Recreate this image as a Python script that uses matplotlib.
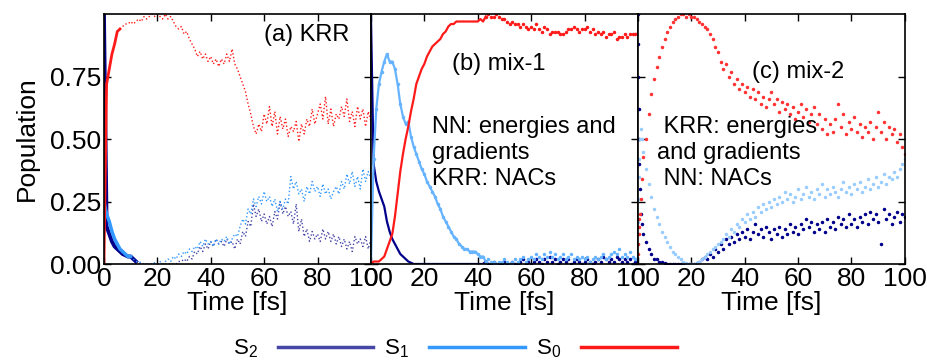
import matplotlib
matplotlib.use('Agg')
import matplotlib.pyplot as plt
from matplotlib.lines import Line2D
import numpy as np

plt.rcParams['font.family'] = ['Liberation Sans', 'DejaVu Sans']
plt.rcParams['font.size'] = 19
plt.rcParams['mathtext.default'] = 'regular'

# time grid (fs) for panels (a) and (b)
t = np.arange(0, 101)

# (a) KRR
s0_a = [0.00, 0.72, 0.78, 0.84, 0.88, 0.93, 0.94, 0.95, 0.96, 0.96,
        0.97, 0.96, 0.97, 0.98, 0.97, 0.99, 0.98, 0.99, 1.00, 0.99,
        1.00, 0.99, 0.98, 1.00, 0.98, 0.99, 0.97, 0.95, 0.94, 0.95,
        0.92, 0.93, 0.90, 0.88, 0.86, 0.83, 0.85, 0.82, 0.84, 0.81,
        0.83, 0.80, 0.82, 0.79, 0.82, 0.80, 0.84, 0.81, 0.86, 0.80,
        0.78, 0.75, 0.72, 0.69, 0.64, 0.60, 0.55, 0.52, 0.56, 0.53,
        0.60, 0.56, 0.63, 0.55, 0.61, 0.52, 0.59, 0.54, 0.58, 0.51,
        0.55, 0.53, 0.57, 0.49, 0.56, 0.52, 0.58, 0.55, 0.62, 0.56,
        0.60, 0.64, 0.58, 0.67, 0.56, 0.62, 0.55, 0.60, 0.58, 0.63,
        0.59, 0.66, 0.57, 0.61, 0.55, 0.63, 0.58, 0.62, 0.55, 0.61,
        0.57]
s1_a = [0.25, 0.20, 0.17, 0.13, 0.10, 0.08, 0.06, 0.05, 0.04, 0.03,
        0.03, 0.02, 0.01, 0.01, 0.005, 0.00, 0.00, 0.00, 0.00, 0.005,
        0.00, 0.01, 0.00, 0.01, 0.02, 0.01, 0.03, 0.02, 0.04, 0.03,
        0.05, 0.04, 0.06, 0.05, 0.07, 0.06, 0.09, 0.07, 0.10, 0.08,
        0.09, 0.07, 0.10, 0.08, 0.10, 0.09, 0.11, 0.08, 0.10, 0.12,
        0.11, 0.15, 0.18, 0.16, 0.22, 0.20, 0.26, 0.23, 0.27, 0.24,
        0.29, 0.25, 0.27, 0.23, 0.26, 0.21, 0.25, 0.22, 0.26, 0.24,
        0.35, 0.30, 0.33, 0.28, 0.30, 0.25, 0.31, 0.28, 0.33, 0.29,
        0.31, 0.27, 0.32, 0.28, 0.30, 0.26, 0.29, 0.31, 0.28, 0.33,
        0.30, 0.36, 0.32, 0.37, 0.31, 0.35, 0.30, 0.38, 0.33, 0.37,
        0.34]
s2_a = [1.00, 0.15, 0.12, 0.09, 0.07, 0.06, 0.05, 0.04, 0.035, 0.03,
        0.03, 0.02, 0.01, 0.005, 0.00, 0.00, 0.00, 0.00, 0.00, 0.00,
        0.00, 0.00, 0.00, 0.00, 0.00, 0.00, 0.00, 0.00, 0.01, 0.01,
        0.02, 0.01, 0.03, 0.02, 0.05, 0.04, 0.07, 0.05, 0.08, 0.06,
        0.09, 0.07, 0.10, 0.08, 0.09, 0.07, 0.10, 0.08, 0.09, 0.06,
        0.10, 0.08, 0.13, 0.11, 0.17, 0.15, 0.24, 0.19, 0.22, 0.17,
        0.20, 0.16, 0.19, 0.15, 0.21, 0.18, 0.25, 0.20, 0.23, 0.19,
        0.21, 0.16, 0.24, 0.13, 0.18, 0.11, 0.14, 0.09, 0.13, 0.10,
        0.12, 0.09, 0.14, 0.10, 0.13, 0.09, 0.12, 0.08, 0.11, 0.07,
        0.10, 0.06, 0.09, 0.05, 0.11, 0.08, 0.10, 0.07, 0.11, 0.06,
        0.10]

# (b) mix-1
s0_b = [0.00, 0.01, 0.01, 0.01, 0.02, 0.03, 0.06, 0.09, 0.12, 0.19,
        0.28, 0.37, 0.44, 0.50, 0.55, 0.61, 0.66, 0.72, 0.75, 0.78,
        0.80, 0.83, 0.85, 0.87, 0.88, 0.89, 0.90, 0.92, 0.93, 0.95,
        0.96, 0.96, 0.97, 0.97, 0.97, 0.97, 0.97, 0.97, 0.97, 0.97,
        0.97, 0.98, 0.97, 0.99, 1.00, 0.99, 0.99, 1.00, 0.99, 0.98,
        0.98, 0.97, 0.96, 0.97, 0.96, 0.96, 0.95, 0.96, 0.95, 0.94,
        0.95, 0.94, 0.96, 0.94, 0.93, 0.95, 0.94, 0.92, 0.93, 0.93,
        0.93, 0.92, 0.92, 0.93, 0.94, 0.94, 0.95, 0.94, 0.93, 0.94,
        0.94, 0.95, 0.93, 0.94, 0.92, 0.93, 0.92, 0.93, 0.91, 0.92,
        0.92, 0.93, 0.90, 0.91, 0.91, 0.92, 0.91, 0.92, 0.92, 0.92,
        0.93]
s1_b = [0.00, 0.42, 0.62, 0.72, 0.77, 0.81, 0.84, 0.81, 0.81, 0.78,
        0.72, 0.64, 0.59, 0.56, 0.57, 0.51, 0.47, 0.44, 0.41, 0.38,
        0.36, 0.33, 0.31, 0.29, 0.27, 0.24, 0.22, 0.19, 0.17, 0.15,
        0.13, 0.11, 0.10, 0.08, 0.07, 0.06, 0.06, 0.05, 0.05, 0.05,
        0.04, 0.03, 0.03, 0.01, 0.02, 0.01, 0.01, 0.00, 0.01, 0.01,
        0.02, 0.01, 0.00, 0.01, 0.02, 0.01, 0.02, 0.03, 0.01, 0.02,
        0.03, 0.02, 0.04, 0.03, 0.02, 0.04, 0.03, 0.05, 0.03, 0.04,
        0.02, 0.03, 0.04, 0.02, 0.03, 0.04, 0.02, 0.03, 0.02, 0.03,
        0.02, 0.03, 0.01, 0.02, 0.03, 0.02, 0.03, 0.04, 0.02, 0.03,
        0.04, 0.05, 0.04, 0.06, 0.03, 0.04, 0.03, 0.05, 0.03, 0.02,
        0.03]
s2_b = [1.00, 0.40, 0.33, 0.29, 0.26, 0.23, 0.17, 0.13, 0.10, 0.08,
        0.06, 0.04, 0.03, 0.02, 0.01, 0.005, 0.00, 0.00, 0.00, 0.00,
        0.00, 0.00, 0.00, 0.00, 0.00, 0.00, 0.00, 0.00, 0.00, 0.00,
        0.00, 0.00, 0.00, 0.00, 0.00, 0.00, 0.00, 0.00, 0.00, 0.00,
        0.00, 0.00, 0.00, 0.01, 0.00, 0.00, 0.01, 0.00, 0.00, 0.00,
        0.01, 0.00, 0.00, 0.01, 0.00, 0.00, 0.01, 0.02, 0.00, 0.01,
        0.00, 0.01, 0.02, 0.01, 0.00, 0.02, 0.01, 0.03, 0.01, 0.02,
        0.00, 0.01, 0.02, 0.01, 0.02, 0.00, 0.01, 0.02, 0.01, 0.00,
        0.01, 0.02, 0.01, 0.00, 0.01, 0.02, 0.01, 0.03, 0.02, 0.01,
        0.02, 0.01, 0.03, 0.02, 0.01, 0.02, 0.01, 0.02, 0.00, 0.01,
        0.02]

# (c) mix-2, finer sampling right after excitation
t_c = np.r_[[0, 0.1, 0.2, 0.3, 0.4, 0.5, 0.7, 1.0, 1.5, 2.0], np.arange(3, 101)]
s0_c = [0.00, 0.04, 0.08, 0.12, 0.15, 0.18, 0.20, 0.26, 0.34, 0.43,
        0.50, 0.60, 0.68, 0.74, 0.79, 0.83, 0.87, 0.90, 0.93, 0.95,
        0.97, 0.98, 0.99, 1.00, 1.00, 0.99, 1.00, 0.99, 0.99, 0.98,
        0.97, 0.96, 0.95, 0.94, 0.92, 0.90, 0.87, 0.85, 0.81, 0.78,
        0.80, 0.75, 0.77, 0.72, 0.74, 0.70, 0.72, 0.69, 0.71, 0.67,
        0.70, 0.66, 0.69, 0.64, 0.67, 0.63, 0.66, 0.69, 0.64, 0.66,
        0.61, 0.65, 0.62, 0.64, 0.60, 0.63, 0.58, 0.61, 0.64, 0.59,
        0.62, 0.57, 0.60, 0.63, 0.56, 0.60, 0.54, 0.58, 0.52, 0.56,
        0.53, 0.58, 0.64, 0.55, 0.60, 0.52, 0.57, 0.54, 0.59, 0.53,
        0.56, 0.51, 0.55, 0.53, 0.57, 0.50, 0.55, 0.61, 0.53, 0.57,
        0.50, 0.55, 0.52, 0.54, 0.49, 0.52, 0.47, 0.44]
s1_c = [0.00, 0.08, 0.17, 0.26, 0.35, 0.42, 0.50, 0.54, 0.50, 0.45,
        0.38, 0.32, 0.27, 0.22, 0.19, 0.16, 0.13, 0.11, 0.09, 0.07,
        0.05, 0.04, 0.03, 0.02, 0.01, 0.005, 0.00, 0.00, 0.00, 0.005,
        0.01, 0.02, 0.03, 0.04, 0.05, 0.06, 0.07, 0.08, 0.09, 0.10,
        0.12, 0.11, 0.14, 0.13, 0.16, 0.15, 0.18, 0.17, 0.20, 0.18,
        0.21, 0.19, 0.23, 0.21, 0.24, 0.22, 0.25, 0.23, 0.26, 0.24,
        0.27, 0.25, 0.29, 0.26, 0.28, 0.25, 0.27, 0.30, 0.26, 0.28,
        0.31, 0.27, 0.29, 0.26, 0.30, 0.28, 0.32, 0.27, 0.30, 0.28,
        0.31, 0.29, 0.27, 0.30, 0.33, 0.29, 0.31, 0.28, 0.32, 0.30,
        0.33, 0.29, 0.31, 0.34, 0.30, 0.32, 0.35, 0.31, 0.33, 0.36,
        0.32, 0.35, 0.34, 0.37, 0.35, 0.38, 0.40, 0.42]
s2_c = [1.00, 0.88, 0.75, 0.62, 0.50, 0.40, 0.30, 0.20, 0.16, 0.12,
        0.09, 0.06, 0.04, 0.02, 0.02, 0.01, 0.01, 0.005, 0.00, 0.00,
        0.00, 0.00, 0.00, 0.00, 0.00, 0.00, 0.00, 0.00, 0.00, 0.005,
        0.01, 0.02, 0.03, 0.02, 0.04, 0.03, 0.06, 0.05, 0.08, 0.06,
        0.10, 0.08, 0.11, 0.09, 0.12, 0.10, 0.13, 0.11, 0.14, 0.10,
        0.13, 0.16, 0.12, 0.14, 0.11, 0.15, 0.13, 0.10, 0.14, 0.12,
        0.15, 0.11, 0.14, 0.12, 0.16, 0.13, 0.15, 0.12, 0.16, 0.14,
        0.18, 0.15, 0.17, 0.13, 0.16, 0.14, 0.17, 0.13, 0.18, 0.15,
        0.17, 0.14, 0.19, 0.16, 0.18, 0.15, 0.20, 0.16, 0.18, 0.15,
        0.19, 0.17, 0.20, 0.16, 0.21, 0.18, 0.20, 0.17, 0.08, 0.22,
        0.18, 0.20, 0.16, 0.19, 0.21, 0.17, 0.20, 0.19]

navy = '#00008b'
slate = '#4646a8'
blue = '#3399ff'
red = '#ff1a1a'

fig = plt.figure(figsize=(9.28, 3.62), dpi=100)
left, width, bottom, height = 0.112, 0.2877, 0.2707, 0.6906
axs = [fig.add_axes([left + i * width, bottom, width, height]) for i in range(3)]

for i, ax in enumerate(axs):
    ax.set_xlim(0, 100)
    ax.set_ylim(0, 1.0)
    ax.set_xticks([0, 20, 40, 60, 80, 100])
    ax.set_yticks([0, 0.25, 0.5, 0.75])
    ax.tick_params(direction='in', top=True, right=True, length=5, width=1, pad=2)
    for sp in ax.spines.values():
        sp.set_linewidth(1.2)
    ax.set_xlabel('Time [fs]', labelpad=0)
    if i == 0:
        ax.set_yticklabels(['0.00', '0.25', '0.50', '0.75'])
        ax.set_ylabel('Population', labelpad=8)
    else:
        ax.set_yticklabels([])

# (a): thick lines for the first femtoseconds, dotted afterwards
ax = axs[0]
ax.plot(t[:13], s2_a[:13], color=navy, lw=2.8)
ax.plot(t[12:], s2_a[12:], color=slate, lw=1, ls=':')
ax.plot(t[:11], s1_a[:11], color=blue, lw=2.5)
ax.plot(t[10:], s1_a[10:], color=blue, lw=1, ls=':')
ax.plot(t[:7], s0_a[:7], color=red, lw=2)
ax.plot(t[6:], s0_a[6:], color=red, lw=1, ls=':')
ax.text(0.76, 0.915, '(a) KRR', transform=ax.transAxes, ha='center', va='center', fontsize=17)

# (b)
ax = axs[1]
cut = 43
ax.plot(t[:cut + 1], s2_b[:cut + 1], color=navy, lw=1.6)
ax.plot(t[cut:], s2_b[cut:], color=navy, ls='none', marker='.', ms=3)
ax.plot(t[:cut + 1], s1_b[:cut + 1], color='#66b3ff', lw=1.6, marker='.', ms=3)
ax.plot(t[cut:], s1_b[cut:], color='#66b3ff', ls='none', marker='.', ms=3)
ax.plot(t[:cut + 1], s0_b[:cut + 1], color=red, lw=1.6)
ax.plot(t[cut:], s0_b[cut:], color=red, ls='none', marker='.', ms=3)
ax.text(0.48, 0.80, '(b) mix-1', transform=ax.transAxes, ha='center', va='center', fontsize=17)
ax.text(0.228, 0.444, 'NN: energies and\ngradients\nKRR: NACs', transform=ax.transAxes,
        ha='left', va='center', fontsize=17, linespacing=1.25)

# (c)
ax = axs[2]
ax.plot(t_c, s2_c, color=navy, ls='none', marker='.', ms=3)
ax.plot(t_c, s1_c, color='#99ccff', ls='none', marker='.', ms=3)
ax.plot(t_c, s0_c, color='#ff3333', ls='none', marker='.', ms=3)
ax.text(0.60, 0.77, '(c) mix-2', transform=ax.transAxes, ha='center', va='center', fontsize=17)
ax.text(0.07, 0.444, ' KRR: energies\nand gradients\n NN: NACs', transform=ax.transAxes,
        ha='left', va='center', fontsize=17, linespacing=1.25)

handles = [Line2D([], [], color=slate, lw=2.5),
           Line2D([], [], color=blue, lw=2.5),
           Line2D([], [], color=red, lw=2.5)]
fig.legend(handles, ['$S_2$', '$S_1$', '$S_0$'], loc='center', bbox_to_anchor=(0.49, 0.036),
           ncol=3, frameon=False, markerfirst=False, fontsize=16, handlelength=4.3,
           handletextpad=0.9, columnspacing=0.5)

plt.savefig('out.png', dpi=100)
